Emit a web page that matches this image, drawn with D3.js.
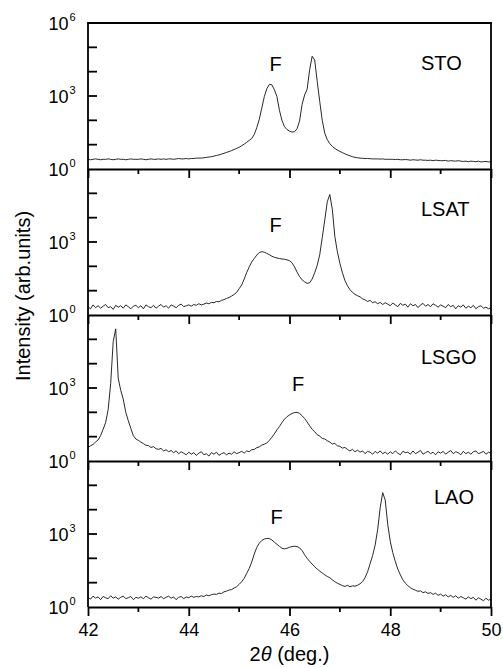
<!DOCTYPE html>
<html>
<head>
<meta charset="utf-8">
<script src="https://cdn.jsdelivr.net/npm/d3@7"></script>
<style>
  body { margin: 0; background: #fff; }
  text { font-family: "Liberation Sans", Arial, sans-serif; fill: #000; }
</style>
</head>
<body>
<div id="chart"></div>
<script>
// scan grid: 42.00 .. 50.00 deg, step 0.05 (161 points)
const scanStart = 42
const scanStep = 0.05
const twoTheta = d3.range(161).map(i => +(scanStart + i * scanStep).toFixed(2))

// intensities, one row per degree (20 points), last value at 50.00
const sto = [
    2.5, 2.4, 2.5, 2.6, 2.5, 2.4, 2.5, 2.5, 2.6, 2.5, 2.4, 2.5, 2.6, 2.5, 2.5, 2.4, 2.5, 2.6, 2.5, 2.5,
    2.5, 2.6, 2.5, 2.4, 2.5, 2.6, 2.5, 2.5, 2.6, 2.5, 2.6, 2.5, 2.6, 2.6, 2.5, 2.6, 2.7, 2.6, 2.6, 2.7,
    2.6, 2.7, 2.7, 2.8, 2.8, 2.8, 2.9, 3.0, 3.1, 3.2, 3.4, 3.6, 3.8, 4.1, 4.4, 4.8, 5.2, 5.7, 6.3, 7.0,
    7.8, 9.0, 10.5, 12.5, 15, 18, 26, 50, 110, 320, 950, 2000, 3000, 2900, 1800, 950, 260, 100, 55, 42,
    36, 33, 34, 45, 95, 450, 1100, 1900, 12000, 43000, 30000, 4000, 600, 100, 30, 16, 11, 8.5, 7.0, 6.0,
    5.3, 4.7, 4.2, 3.8, 3.5, 3.2, 3.0, 2.9, 2.8, 2.75, 2.7, 2.7, 2.65, 2.6, 2.6, 2.6, 2.55, 2.6, 2.5, 2.5,
    2.5, 2.5, 2.45, 2.5, 2.4, 2.4, 2.45, 2.4, 2.3, 2.4, 2.35, 2.3, 2.4, 2.3, 2.3, 2.25, 2.3, 2.2, 2.3, 2.25,
    2.2, 2.2, 2.25, 2.1, 2.2, 2.15, 2.1, 2.2, 2.1, 2.05, 2.1, 2.0, 2.1, 2.05, 2.0, 2.1, 1.95, 2.0, 2.05, 1.95,
    2.0
]

const lsat = [
    2.2, 1.8, 2.6, 2.0, 2.4, 1.9, 2.3, 2.7, 2.0, 2.2, 1.7, 2.5, 2.1, 2.4, 1.9, 2.6, 2.2, 1.8, 2.3, 2.5,
    2.0, 2.4, 1.8, 2.6, 2.2, 2.0, 2.5, 1.9, 2.3, 2.7, 2.1, 2.4, 1.9, 2.6, 2.3, 2.0, 2.5, 2.8, 2.2, 2.4,
    2.6, 2.3, 2.7, 2.5, 2.9, 2.6, 2.8, 3.1, 2.9, 3.3, 3.2, 3.6, 3.5, 4.0, 4.3, 4.8, 5.2, 6.0, 7.0, 8.5,
    12, 17, 30, 55, 95, 150, 210, 290, 370, 400, 380, 340, 300, 260, 235, 220, 210, 200, 195, 185,
    170, 140, 95, 58, 38, 28, 23, 20, 21, 30, 55, 110, 300, 1500, 8000, 45000, 90000, 22000, 1700, 400,
    133, 55, 26, 16, 11, 8.5, 7.0, 6.2, 5.6, 4.6, 4.2, 3.6, 4.0, 3.2, 3.5, 2.9, 3.3, 2.7, 3.2, 2.8,
    2.4, 3.1, 2.6, 2.2, 3.0, 2.5, 2.8, 2.1, 2.9, 2.4, 2.7, 2.0, 2.6, 3.0, 2.3, 2.7, 2.2, 2.9, 2.5, 2.1,
    2.6, 2.3, 2.0, 2.7, 2.2, 2.5, 1.8, 2.4, 2.1, 2.6, 1.9, 2.3, 2.0, 2.5, 1.8, 2.2, 2.4, 1.9, 2.1, 1.8,
    2.0
]

const lsgo = [
    3.6, 4.2, 4.8, 6.0, 7.3, 11, 20, 38, 130, 1500, 80000, 270000, 2500, 800, 350, 100, 45, 22, 11, 8.0,
    7.0, 6.0, 5.2, 4.4, 4.3, 3.6, 3.9, 3.2, 3.0, 3.3, 2.6, 2.9, 2.4, 2.7, 2.2, 2.6, 2.0, 2.4, 2.1, 1.8,
    2.3, 1.9, 2.2, 1.7, 2.1, 2.4, 1.8, 2.0, 1.6, 2.2, 1.9, 2.3, 1.7, 2.0, 2.2, 1.8, 2.1, 1.9, 2.4, 2.0,
    2.2, 2.5, 2.1, 2.6, 2.4, 2.9, 3.0, 3.5, 3.8, 4.5, 4.9, 5.5, 7.0, 9.5, 13, 19, 26, 38, 52, 66,
    78, 90, 98, 100, 90, 72, 56, 40, 28, 20, 16, 12, 10.5, 8.5, 8.0, 6.8, 6.0, 5.0, 5.3, 4.2,
    4.0, 3.4, 3.6, 3.0, 2.6, 3.0, 2.4, 2.8, 2.3, 2.6, 2.0, 2.5, 2.3, 1.9, 2.5, 2.1, 2.6, 2.0, 2.3, 1.9,
    2.4, 2.0, 2.6, 2.1, 1.8, 2.5, 2.2, 2.3, 1.9, 2.6, 2.0, 2.3, 2.7, 1.9, 2.2, 2.5, 2.0, 2.3, 1.8, 2.4,
    2.1, 2.5, 1.9, 2.3, 2.7, 2.0, 2.4, 2.2, 1.8, 2.5, 2.0, 2.3, 1.9, 2.4, 2.6, 2.0, 2.2, 2.5, 1.9, 2.3,
    2.1
]

const lao = [
    2.5, 2.1, 2.8, 2.3, 2.6, 2.0, 2.7, 2.4, 2.2, 2.9, 2.3, 2.6, 2.1, 2.5, 2.8, 2.2, 2.4, 2.7, 2.0, 2.5,
    2.3, 2.6, 2.2, 2.8, 2.4, 2.1, 2.6, 2.5, 2.3, 2.7, 2.2, 2.5, 2.8, 2.3, 2.6, 2.0, 2.5, 2.7, 2.2, 2.6,
    2.4, 2.8, 2.5, 2.7, 2.6, 2.9, 2.7, 3.1, 2.9, 3.2, 3.4, 3.3, 3.7, 3.6, 4.2, 4.5, 5.0, 5.2, 6.0, 6.8,
    8.5, 11, 15, 24, 38, 70, 150, 280, 420, 540, 620, 660, 650, 570, 460, 380, 310, 260, 245, 260,
    285, 305, 315, 305, 270, 210, 140, 100, 75, 58, 45, 36, 30, 25, 21, 18, 16, 13, 11, 9.5,
    8.5, 7.6, 7.0, 7.8, 6.8, 7.4, 7.2, 7.8, 9.0, 11, 16, 28, 60, 130, 350, 1500, 12000, 50000, 25000, 2500,
    500, 170, 75, 36, 21, 13, 9.5, 7.5, 6.2, 5.4, 4.9, 4.4, 4.6, 3.9, 4.2, 3.6, 3.9, 3.3, 3.7, 3.0,
    3.4, 2.8, 3.2, 2.6, 3.0, 2.5, 2.9, 2.3, 2.7, 2.4, 2.1, 2.6, 2.2, 2.5, 1.9, 2.4, 2.1, 1.8, 2.3, 1.9,
    2.1
]

const samples = ['STO', 'LSAT', 'LSGO', 'LAO']
const series = [sto, lsat, lsgo, lao]
const xTicks = [42, 44, 46, 48, 50]
const xMinorTicks = [43, 45, 47, 49]
const yTicks = [1, 10, 100, 1e3, 1e4, 1e5, 1e6]
const yLabelExps = [0, 3, 6]

// label offsets (px) inside each panel: sample name and film peak "F"
const nameSpots = [[421, 47], [421, 47], [421, 49], [434, 43]]
const fSpots = [[275.5, 48], [275.5, 63], [298, 76], [276.5, 63]]

let dimensions = {
    width: 503,
    height: 668,
    left: 88,
    right: 491,
    top: 23,
    panelHeight: 146
}

const svg = d3.select('#chart')
    .append('svg')
    .attr('width', dimensions.width)
    .attr('height', dimensions.height)

svg.append('rect')
    .attr('width', dimensions.width)
    .attr('height', dimensions.height)
    .attr('fill', '#fff')

const xScale = d3.scaleLinear()
    .domain([42, 50])
    .range([dimensions.left, dimensions.right])

const frameWidth = 1.8

series.forEach((values, p) => {
    const top = dimensions.top + p * dimensions.panelHeight
    const bottom = top + dimensions.panelHeight

    const yScale = d3.scaleLog()
        .domain([1, 1e6])
        .range([bottom, top])

    const panel = svg.append('g')

    // the scan
    const lineGenerator = d3.line()
        .x((d, i) => xScale(twoTheta[i]))
        .y(d => yScale(d))

    panel.append('path')
        .datum(values)
        .attr('d', lineGenerator)
        .attr('fill', 'none')
        .attr('stroke', '#111')
        .attr('stroke-width', 0.9)
        .attr('stroke-linejoin', 'round')

    // frame
    panel.append('line')
        .attr('x1', dimensions.left).attr('x2', dimensions.left)
        .attr('y1', top).attr('y2', bottom)
        .attr('stroke', '#000').attr('stroke-width', frameWidth)
    panel.append('line')
        .attr('x1', dimensions.right).attr('x2', dimensions.right)
        .attr('y1', top).attr('y2', bottom)
        .attr('stroke', '#000').attr('stroke-width', frameWidth)
    if (p === 0) {
        panel.append('line')
            .attr('x1', dimensions.left - frameWidth / 2).attr('x2', dimensions.right + frameWidth / 2)
            .attr('y1', top).attr('y2', top)
            .attr('stroke', '#000').attr('stroke-width', frameWidth)
    }

    // bottom axis with outward ticks
    const xAxis = d3.axisBottom(xScale)
        .tickValues(xTicks)
        .tickSize(9)
        .tickSizeOuter(0)
        .tickFormat(p === series.length - 1 ? d3.format('d') : '')
    const xg = panel.append('g')
        .attr('transform', `translate(0, ${bottom})`)
        .call(xAxis)
    xg.select('.domain').attr('stroke', '#000').attr('stroke-width', frameWidth)
    xg.selectAll('.tick line').attr('stroke', '#000').attr('stroke-width', frameWidth)
    xg.selectAll('.tick text')
        .attr('font-size', 18)
        .attr('font-family', '"Liberation Sans", Arial, sans-serif')
        .attr('fill', '#000')
        .attr('y', 29)
        .attr('dy', 0)

    panel.append('g')
        .selectAll('line')
        .data(xMinorTicks)
        .join('line')
        .attr('x1', d => xScale(d)).attr('x2', d => xScale(d))
        .attr('y1', bottom).attr('y2', bottom + 5)
        .attr('stroke', '#000').attr('stroke-width', frameWidth)

    // left axis: ticks inward every decade
    panel.append('g')
        .selectAll('line')
        .data(yTicks.filter(d => d > 1 && d < 1e6))
        .join('line')
        .attr('x1', dimensions.left).attr('x2', dimensions.left + 9)
        .attr('y1', d => yScale(d)).attr('y2', d => yScale(d))
        .attr('stroke', '#000').attr('stroke-width', frameWidth)

    const labelExps = p === 0 ? yLabelExps : yLabelExps.filter(e => e < 6)
    const yLabels = panel.append('g')
        .selectAll('text')
        .data(labelExps)
        .join('text')
        .attr('x', 68.5)
        .attr('y', e => yScale(Math.pow(10, e)) + 7)
        .attr('font-size', 18)
    yLabels.append('tspan')
        .attr('text-anchor', 'end')
        .text('10')
    yLabels.append('tspan')
        .attr('x', 69.5)
        .attr('dy', -9)
        .attr('font-size', 11)
        .text(e => e)

    // sample name and film peak marker
    panel.append('text')
        .attr('x', nameSpots[p][0])
        .attr('y', top + nameSpots[p][1])
        .attr('font-size', 20)
        .text(samples[p])
    panel.append('text')
        .attr('x', fSpots[p][0])
        .attr('y', top + fSpots[p][1])
        .attr('text-anchor', 'middle')
        .attr('font-size', 20)
        .text('F')
})

// axis titles
const xTitle = svg.append('text')
    .attr('x', (dimensions.left + dimensions.right) / 2)
    .attr('y', 661)
    .attr('text-anchor', 'middle')
    .attr('font-size', 20)
xTitle.append('tspan').text('2')
xTitle.append('tspan').attr('font-style', 'italic').text('θ')
xTitle.append('tspan').text(' (deg.)')

svg.append('text')
    .attr('transform', 'translate(29.5, 296) rotate(-90)')
    .attr('text-anchor', 'middle')
    .attr('font-size', 20)
    .text('Intensity (arb.units)')
</script>
</body>
</html>
